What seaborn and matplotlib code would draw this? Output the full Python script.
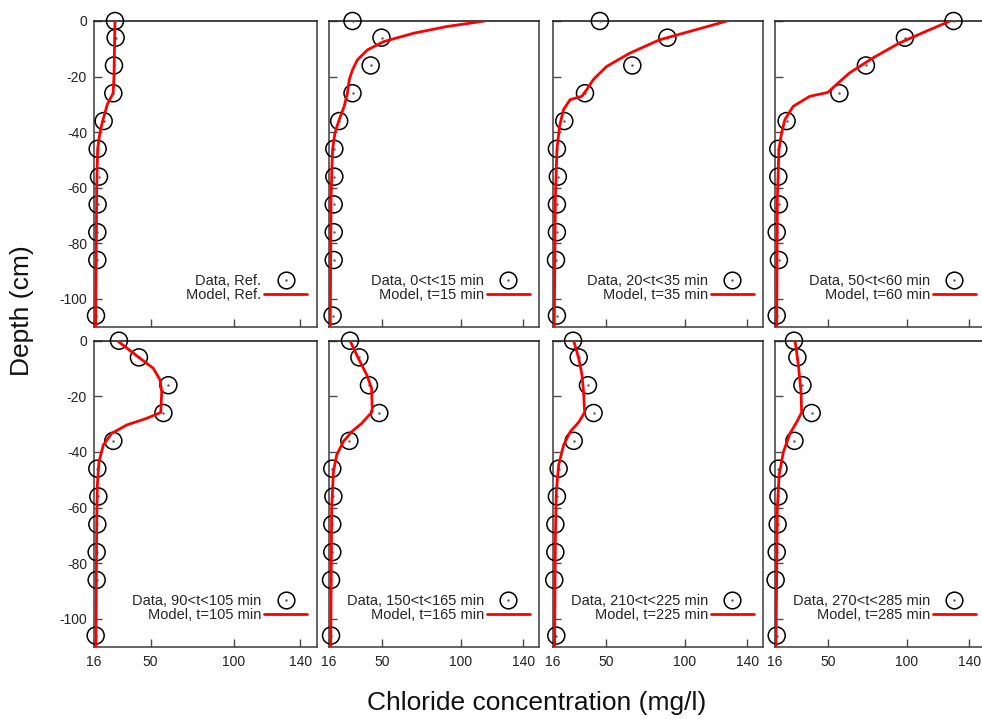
import numpy as np
import pandas as pd
import matplotlib
matplotlib.use("Agg")
import matplotlib.pyplot as plt
import seaborn as sns
from matplotlib.lines import Line2D
from matplotlib.legend_handler import HandlerTuple

# sampling depths of the measured profiles (cm)
depth_data = [0, -6, -16, -26, -36, -46, -56, -66, -76, -86, -106]

# measured chloride (mg/l), one list per panel
data_ref = [28.6, 29.0, 28.0, 27.6, 21.8, 18.2, 19.0, 18.2, 18.0, 18.0, 17.2]
data_15 = [31.0, 49.5, 42.6, 31.0, 22.5, 19.4, 19.4, 19.0, 19.0, 19.0, 18.3]
data_35 = [45.9, 89.0, 66.6, 36.4, 23.2, 18.5, 19.1, 18.5, 18.5, 17.9, 18.5]
data_60 = [129.9, 98.9, 74.0, 57.1, 23.4, 18.1, 18.1, 18.5, 17.1, 18.5, 17.1]
data_105 = [31.0, 43.0, 60.7, 57.7, 27.6, 18.0, 18.6, 18.0, 17.6, 17.6, 17.0]
data_165 = [29.4, 35.4, 41.5, 48.1, 29.0, 18.1, 18.8, 18.1, 18.1, 17.3, 17.3]
data_225 = [28.8, 32.4, 38.3, 41.9, 29.2, 19.6, 18.5, 17.5, 17.5, 16.8, 18.1]
data_285 = [28.1, 30.3, 33.5, 39.4, 28.4, 18.2, 18.2, 17.7, 17.1, 16.4, 17.1]

# model profiles (depth, concentration)
model_ref_d = [0, -20, -26, -30, -36, -40, -46, -60, -80, -110]
model_ref_c = [28.6, 28.0, 27.5, 24.0, 21.2, 19.6, 18.2, 17.6, 17.4, 17.0]
model_15_d = [0, -2.0, -4.4, -7.4, -10.4, -14.0, -17.6, -21.2, -25.9, -30.7, -35.5, -40.3, -46.2, -52.2, -64.2, -110]
model_15_c = [115.4, 91.1, 70.0, 51.0, 40.5, 34.1, 31.0, 28.9, 27.8, 25.7, 22.5, 19.8, 18.3, 17.9, 17.3, 16.8]
model_35_d = [0, -6.8, -11.6, -16.4, -21.1, -24.7, -27.1, -28.3, -31.9, -37.9, -46.2, -64.0, -110]
model_35_c = [127.1, 83.9, 64.9, 50.1, 41.7, 37.5, 34.4, 26.9, 22.7, 20.2, 18.5, 17.5, 16.8]
model_60_d = [0, -3.8, -8.0, -13.4, -18.7, -23.5, -25.7, -27.1, -30.7, -35.5, -40.3, -46.2, -64.2, -110]
model_60_c = [127.8, 112.0, 95.1, 78.2, 63.5, 54.0, 49.7, 38.2, 27.6, 22.3, 20.2, 18.5, 17.5, 17.1]
model_105_d = [0, -6.3, -9.9, -14.1, -18.3, -25.8, -27.9, -30.3, -33.3, -37.5, -43.5, -51.9, -66.0, -110]
model_105_c = [30.0, 43.6, 51.6, 55.7, 56.7, 56.1, 47.7, 35.7, 26.6, 21.6, 19.0, 18.0, 17.6, 17.2]
model_165_d = [0, -6.3, -12.3, -17.1, -25.5, -29.7, -32.7, -36.3, -41.1, -47.1, -60.3, -110]
model_165_c = [29.4, 34.7, 40.1, 43.2, 43.6, 36.9, 30.5, 25.1, 20.9, 18.8, 17.7, 17.1]
model_225_d = [0, -6.3, -12.3, -18.3, -25.8, -29.3, -32.7, -37.5, -44.7, -54.3, -72.0, -110]
model_225_c = [29.2, 32.4, 34.5, 35.5, 36.2, 32.4, 27.0, 22.8, 19.6, 18.1, 17.5, 17.0]
model_285_d = [0, -8.7, -18.3, -25.8, -29.3, -33.3, -39.9, -48.3, -60.3, -110]
model_285_c = [28.8, 30.9, 32.6, 33.0, 29.8, 25.6, 21.4, 18.6, 17.5, 16.6]

data_labels = ["Data, Ref.", "Data, 0<t<15 min", "Data, 20<t<35 min", "Data, 50<t<60 min",
               "Data, 90<t<105 min", "Data, 150<t<165 min", "Data, 210<t<225 min", "Data, 270<t<285 min"]
model_labels = ["Model, Ref.", "Model, t=15 min", "Model, t=35 min", "Model, t=60 min",
                "Model, t=105 min", "Model, t=165 min", "Model, t=225 min", "Model, t=285 min"]

x_ticks = [16, 50, 100, 140]
x_ticklabels = ["16", "50", "100", "140"]
y_ticks = [0, -20, -40, -60, -80, -100]
y_ticklabels = ["0", "-20", "-40", "-60", "-80", "-100"]

data_sets = [data_ref, data_15, data_35, data_60, data_105, data_165, data_225, data_285]
models = [(model_ref_d, model_ref_c), (model_15_d, model_15_c), (model_35_d, model_35_c),
          (model_60_d, model_60_c), (model_105_d, model_105_c), (model_165_d, model_165_c),
          (model_225_d, model_225_c), (model_285_d, model_285_c)]

sns.set_style("ticks")
plt.rcParams['font.family'] = ['Liberation Sans', 'DejaVu Sans']

W, H = 982, 719
fig = plt.figure(figsize=(W / 100, H / 100), dpi=100)

# panel boxes in pixels: (left, right) per column, (top, bottom) per row
cols = [(94, 317), (329, 539), (553, 763), (775, 985)]
rows = [(21, 326.7), (340.7, 646.7)]
frame_col = "#4a4a4a"

for i in range(8):
    r, c = divmod(i, 4)
    x0, x1 = cols[c]
    y0, y1 = rows[r]
    ax = fig.add_axes([x0 / W, 1 - y1 / H, (x1 - x0) / W, (y1 - y0) / H])

    pts = pd.DataFrame({"conc": data_sets[i], "depth": depth_data})
    md, mc = models[i]
    line = pd.DataFrame({"conc": mc, "depth": md})

    sns.scatterplot(data=pts, x="conc", y="depth", ax=ax, s=150, marker="o",
                    facecolor="none", edgecolor="black", linewidth=1.1,
                    clip_on=False, zorder=3)
    ax.plot(pts["conc"], pts["depth"], ls="none", marker=".", ms=1.5,
            color="0.35", zorder=3, clip_on=False)
    sns.lineplot(data=line, x="conc", y="depth", ax=ax, sort=False, estimator=None,
                 color="red", lw=2.0, zorder=4)

    ax.set_xlim(16, 150)
    ax.set_ylim(-110, 0)
    ax.set_xticks(x_ticks)
    ax.set_yticks(y_ticks)
    if r == 1:
        ax.set_xticklabels(x_ticklabels)
    else:
        ax.set_xticklabels([])
    if c == 0:
        ax.set_yticklabels(y_ticklabels)
    else:
        ax.set_yticklabels([])
    ax.set_xlabel("")
    ax.set_ylabel("")
    ax.tick_params(direction="in", length=5.5, width=1, color=frame_col,
                   labelsize=10, labelcolor="#222222")
    ax.tick_params(axis="x", pad=6)
    ax.tick_params(axis="y", pad=5)
    for sp in ax.spines.values():
        sp.set_color(frame_col)
        sp.set_linewidth(1.2)
    ax.spines["top"].set_color("#222222")

    circ = Line2D([], [], ls="none", marker="o", ms=12, mfc="none", mec="black", mew=1.1)
    dot = Line2D([], [], ls="none", marker=".", ms=1.5, color="0.35")
    red = Line2D([], [], color="red", lw=2.0)
    ax.legend([(circ, dot), red], [data_labels[i], model_labels[i]],
              handler_map={tuple: HandlerTuple(ndivide=1)},
              loc="lower right", bbox_to_anchor=(0.957, 0.08), borderaxespad=0,
              borderpad=0, frameon=False, markerfirst=False, fontsize=10.5,
              handlelength=2.95, handletextpad=0.2, labelspacing=0.0)

fig.text(22 / W, 1 - 311 / H, "Depth (cm)", rotation=90, ha="center", va="center",
         fontsize=19, color="#111111")
fig.text(537 / W, 1 - 703 / H, "Chloride concentration (mg/l)", ha="center", va="center",
         fontsize=19, color="#111111")

fig.savefig("out.png", dpi=100)
